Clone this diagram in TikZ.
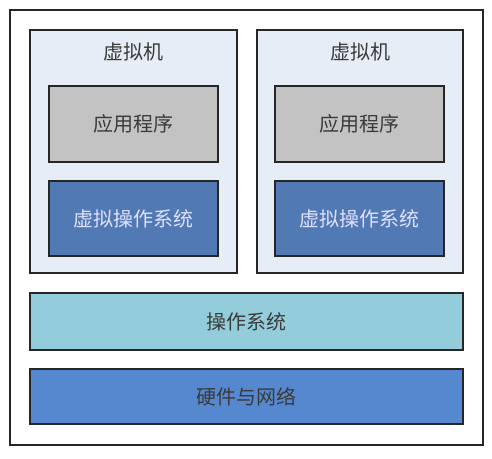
\documentclass[tikz,border=0pt]{standalone}
\usepackage{fontspec}
\newfontfamily\cjk{Noto Sans CJK SC}
\definecolor{vmfill}{HTML}{E7EDF7}
\definecolor{appfill}{HTML}{C3C3C3}
\definecolor{vosfill}{HTML}{5179B4}
\definecolor{osfill}{HTML}{93CDDB}
\definecolor{hwfill}{HTML}{5688CF}
\definecolor{txt}{HTML}{3A3A3A}
\tikzset{lbl/.style={font=\cjk\fontsize{20}{24}\selectfont, text=txt}}
\begin{document}
\begin{tikzpicture}[x=1pt,y=-1pt,
  box/.style={draw=black!85, line width=1.4pt, lbl},
  every node/.style={inner sep=0pt, outer sep=0pt}]
\useasboundingbox (0,0) rectangle (492,458);
\fill[white] (0,0) rectangle (492,458);
\draw[line width=1.4pt, draw=black!85] (10,10) rectangle (483,445);
% VMs
\node[box, fill=vmfill, minimum width=207pt, minimum height=243pt, anchor=north west] (vm1) at (30,30) {};
\node[box, fill=vmfill, minimum width=206pt, minimum height=243pt, anchor=north west] (vm2) at (257,30) {};
\node[lbl] (vm1t) at (133.5,52) {虚拟机};
\node[lbl] (vm2t) at (360,52) {虚拟机};
\node[box, fill=appfill, minimum width=169pt, minimum height=76pt, anchor=north west] (app1) at (49,86) {应用程序};
\node[box, fill=appfill, minimum width=169pt, minimum height=76pt, anchor=north west] (app2) at (275,86) {应用程序};
\node[box, fill=vosfill, text=white!88!blue, minimum width=169pt, minimum height=75pt, anchor=north west] (vos1) at (49,181) {虚拟操作系统};
\node[box, fill=vosfill, text=white!88!blue, minimum width=169pt, minimum height=75pt, anchor=north west] (vos2) at (275,181) {虚拟操作系统};
\node[box, fill=osfill, minimum width=433pt, minimum height=57pt, anchor=north west] (os) at (30,293) {操作系统};
\node[box, fill=hwfill, minimum width=433pt, minimum height=55pt, anchor=north west] (hw) at (30,369) {硬件与网络};
\end{tikzpicture}
\end{document}
